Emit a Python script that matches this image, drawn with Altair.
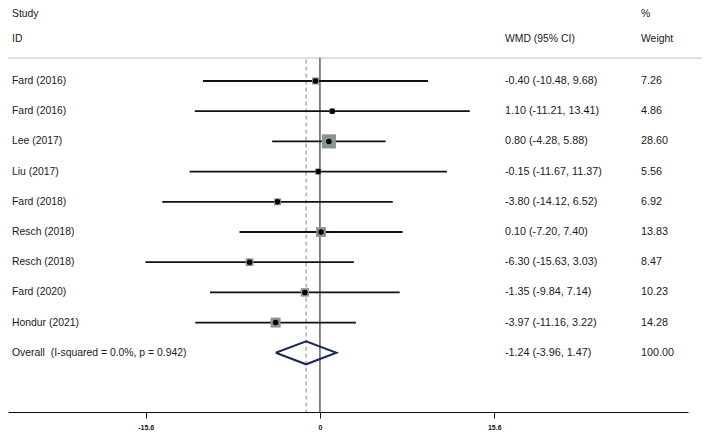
import altair as alt
import pandas as pd

studies = ["Fard (2016)", "Fard (2016)", "Lee (2017)", "Liu (2017)", "Fard (2018)",
           "Resch (2018)", "Resch (2018)", "Fard (2020)", "Hondur (2021)"]
est = [-0.40, 1.10, 0.80, -0.15, -3.80, 0.10, -6.30, -1.35, -3.97]
lo = [-10.48, -11.21, -4.28, -11.67, -14.12, -7.20, -15.63, -9.84, -11.16]
hi = [9.68, 13.41, 5.88, 11.37, 6.52, 7.40, 3.03, 7.14, 3.22]
weights = [7.26, 4.86, 28.60, 5.56, 6.92, 13.83, 8.47, 10.23, 14.28]

overall_label = "Overall\u00a0 (I-squared = 0.0%, p = 0.942)"
overall_est, overall_lo, overall_hi, overall_w = -1.24, -3.96, 1.47, 100.00

tick_values = [-15.6, 0, 15.6]

FONT = "Liberation Sans"
XDOM = [-27.93, 32.95]
YDOM = [10.96, -2.417]
Y_BOTTOM = 10.96
Y_TOPLINE = -0.76

def fmt(v):
    return f"{v:.2f}"

rows = pd.DataFrame({
    "row": list(range(len(studies))),
    "study": studies,
    "est": est, "lo": lo, "hi": hi, "w": weights,
    "ci": [f"{fmt(e)} ({fmt(l)}, {fmt(h)})" for e, l, h in zip(est, lo, hi)],
    "wt": [fmt(w) for w in weights],
})
orow = len(studies)
overall = pd.DataFrame({
    "row": [orow], "study": [overall_label],
    "ci": [f"{fmt(overall_est)} ({fmt(overall_lo)}, {fmt(overall_hi)})"],
    "wt": [fmt(overall_w)],
})
text_rows = pd.concat([rows[["row", "study", "ci", "wt"]], overall], ignore_index=True)

headers = pd.DataFrame({
    "row": [-2.22, -1.39, -1.39, -2.22, -1.39],
    "label": ["Study", "ID", "WMD (95% CI)", "%", "Weight"],
    "col": ["a", "a", "b", "c", "c"],
})

xs = alt.Scale(domain=XDOM, nice=False, zero=False)
ys = alt.Scale(domain=YDOM, nice=False, zero=False)

xaxis = alt.Axis(
    values=tick_values, orient="bottom", domainColor="#111", domainWidth=1,
    tickColor="#111", tickSize=6, tickWidth=1, labelFontSize=7, labelFont=FONT,
    labelColor="#111", labelPadding=5, grid=False, title=None, labelFontWeight="bold",
    labelExpr="datum.value == 0 ? '0' : (datum.value < 0 ? '-' : '') + format(abs(datum.value), '.1f')")

X = lambda f: alt.X(f, type="quantitative", scale=xs, axis=xaxis)
Y = lambda f: alt.Y(f, type="quantitative", scale=ys, axis=None)

base_rows = alt.Chart(rows)

topline = alt.Chart(pd.DataFrame({"r": [Y_TOPLINE]})).mark_rule(color="#b8bcc0", strokeWidth=1).encode(
    x=alt.value(-5), x2=alt.value(699), y=Y("r")
)

vlines = pd.DataFrame({"x": [0.0], "y1": [Y_TOPLINE], "y2": [Y_BOTTOM]})
zero_line = alt.Chart(vlines).mark_rule(color="#111", strokeWidth=1).encode(
    x=X("x"), y=Y("y1"), y2="y2"
)
dash_df = pd.DataFrame({"x": [overall_est], "y1": [Y_TOPLINE + 0.05], "y2": [Y_BOTTOM]})
dash_line = alt.Chart(dash_df).mark_rule(color="#9c7880", strokeWidth=1, strokeDash=[4, 3]).encode(
    x=X("x"), y=Y("y1"), y2="y2"
)

ci = base_rows.mark_rule(color="#111", strokeWidth=1.8).encode(
    x=X("lo"), x2="hi", y=Y("row")
)
boxes = base_rows.mark_square(color="#8a9393", opacity=1).encode(
    x=X("est"), y=Y("row"),
    size=alt.Size("w:Q", scale=alt.Scale(type="linear", domain=[0, 28.6], range=[0, 200]), legend=None),
)
dots = base_rows.mark_circle(color="#000", opacity=1, size=30).encode(
    x=X("est"), y=Y("row")
)

half_h = 11.5 / 30.2
diamond = pd.DataFrame({
    "x": [overall_lo, overall_est, overall_hi, overall_est, overall_lo],
    "y": [orow, orow - half_h, orow, orow + half_h, orow],
    "o": [0, 1, 2, 3, 4],
})
diamond_mark = alt.Chart(diamond).mark_line(color="#1f2a5c", strokeWidth=2).encode(
    x=X("x"), y=Y("y"), order="o:Q"
)

tstyle = dict(font=FONT, fontSize=10.4, color="#1a1a1a", align="left", baseline="middle")
nstyle = dict(font=FONT, fontSize=10.8, color="#1a1a1a", align="left", baseline="middle")
study_txt = alt.Chart(text_rows).mark_text(**tstyle).encode(
    x=alt.value(4), y=Y("row"), text="study:N")
ci_txt = alt.Chart(text_rows).mark_text(**nstyle).encode(
    x=alt.value(497), y=Y("row"), text="ci:N")
wt_txt = alt.Chart(text_rows).mark_text(**nstyle).encode(
    x=alt.value(633), y=Y("row"), text="wt:N")

hdr = alt.Chart(headers)
h_a = hdr.transform_filter("datum.col == 'a'").mark_text(**tstyle).encode(
    x=alt.value(4), y=Y("row"), text="label:N")
h_b = hdr.transform_filter("datum.col == 'b'").mark_text(**tstyle).encode(
    x=alt.value(497), y=Y("row"), text="label:N")
h_c = hdr.transform_filter("datum.col == 'c'").mark_text(**tstyle).encode(
    x=alt.value(633), y=Y("row"), text="label:N")

chart = alt.layer(
    topline, dash_line, zero_line, ci, boxes, dots, diamond_mark,
    study_txt, ci_txt, wt_txt, h_a, h_b, h_c
).properties(
    width=680, height=404,
    autosize=alt.AutoSizeParams(type="none"),
    padding={"left": 0, "top": 0, "right": 14, "bottom": 20},
    background="white",
).configure_view(strokeWidth=0, stroke=None)

chart.save("out.html", embed_options={"renderer": "svg", "actions": False})
